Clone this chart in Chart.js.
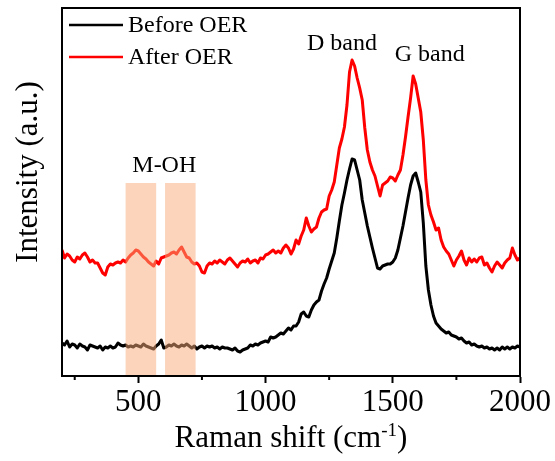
<!DOCTYPE html>
<html><head><meta charset="utf-8">
<script src="https://cdn.jsdelivr.net/npm/chart.js@4/dist/chart.umd.min.js"></script>
<style>html,body{margin:0;padding:0;background:#fff}canvas{display:block}</style>
</head><body>
<canvas id="c" width="555" height="461"></canvas>
<script>
// Raman shift grid (cm^-1): 200 .. 2000 every 10
const shiftStart = 200, shiftStep = 10;

// Before OER intensities (a.u.)
const beforeOER = [
 33,31,35,29,32,31,28,32,30,29,
 26,31,30,29,28,30,26,29,28,30,
 28,29,33,31,30,31,29,30,29,31,
 30,29,32,30,29,28,27,30,32,36,
 28,29,31,30,32,30,29,31,30,32,
 30,28,30,27,29,30,28,30,29,30,
 28,29,27,29,28,28,27,26,28,25,
 24,26,27,28,31,30,32,31,33,34,
 35,34,39,38,39,41,43,42,45,48,
 46,50,50,54,62,64,60,59,66,71,
 74,76,85,92,98,107,115,123,138,155,
 171,183,196,207,217,216,206,196,176,163,
 150,139,128,118,108,107,110,111,112,112,
 114,118,126,138,150,164,178,191,200,203,
 194,184,153,110,86,71,60,53,50,47,
 45,43,44,41,40,39,37,38,35,33,
 34,31,32,30,29,30,28,29,27,28,
 26,28,26,29,27,29,27,29,28,30,
 29
];

// After OER intensities (a.u.)
const afterOER = [
 126,118,122,120,116,114,119,117,121,123,
 119,114,116,113,113,108,103,101,109,112,
 111,113,114,113,116,114,118,121,123,126,
 125,122,119,117,114,112,110,115,112,118,
 119,120,121,123,124,122,126,129,124,119,
 118,114,112,113,110,104,103,110,113,112,
 115,113,116,114,112,116,118,115,112,109,
 113,115,114,117,113,115,116,113,118,117,
 121,122,124,126,123,125,123,128,131,128,
 122,127,136,132,140,146,158,150,144,147,
 149,158,164,166,167,180,186,194,211,228,
 237,249,271,304,316,310,298,288,276,248,
 226,214,206,200,190,180,191,193,195,199,
 198,195,201,206,221,239,259,278,300,292,
 278,264,236,196,171,161,154,146,148,136,
 129,125,122,116,110,116,120,125,116,111,
 118,114,117,114,118,119,111,113,108,104,
 110,114,111,108,113,116,118,128,121,116,
 118
];

const seriesLabels = ['Before OER', 'After OER'];
const seriesColors = ['#000000', '#ff0000'];
const majorTicks = [500, 1000, 1500, 2000];
const minorTicks = [250, 750, 1250, 1750];
const bandRegions = [[450, 570], [605, 725]];
const bandTop = 193;
const annotations = [
  {text: 'D band', x: 1300, y: 332},
  {text: 'G band', x: 1645, y: 321},
  {text: 'M-OH', x: 602, y: 210}
];

const shifts = beforeOER.map((_, i) => shiftStart + i * shiftStep);
const FONT = "'Liberation Serif','Times New Roman',serif";

const deco = {
  id: 'deco',
  afterDatasetsDraw(chart) {
    const {ctx, chartArea: a, scales: {x, y}} = chart;
    ctx.save();
    // shaded M-OH regions (drawn over the lines)
    ctx.fillStyle = 'rgba(248,170,120,0.5)';
    const t = y.getPixelForValue(bandTop);
    bandRegions.forEach(([x0, x1]) => {
      const p0 = x.getPixelForValue(x0), p1 = x.getPixelForValue(x1);
      ctx.fillRect(p0, t, p1 - p0, a.bottom - t);
    });
    // frame
    ctx.strokeStyle = '#000';
    ctx.lineWidth = 2;
    ctx.strokeRect(a.left, a.top, a.right - a.left, a.bottom - a.top);
    // minor ticks
    ctx.beginPath();
    minorTicks.forEach(v => {
      const p = x.getPixelForValue(v);
      ctx.moveTo(p, a.bottom);
      ctx.lineTo(p, a.bottom + 4);
    });
    ctx.stroke();
    // annotations
    ctx.fillStyle = '#000';
    ctx.font = '24px ' + FONT;
    ctx.textAlign = 'center';
    ctx.textBaseline = 'middle';
    annotations.forEach(an => ctx.fillText(an.text, x.getPixelForValue(an.x), y.getPixelForValue(an.y)));
    // legend
    ctx.textAlign = 'left';
    ctx.lineWidth = 2.5;
    chart.data.datasets.forEach((ds, i) => {
      const ly = a.top + 17 + i * 32;
      ctx.strokeStyle = ds.borderColor;
      ctx.beginPath();
      ctx.moveTo(a.left + 7, ly);
      ctx.lineTo(a.left + 61, ly);
      ctx.stroke();
      ctx.fillStyle = '#000';
      ctx.fillText(ds.label, a.left + 66, ly + 1);
    });
    // y title
    ctx.save();
    ctx.translate(a.left - 33, a.top + 164);
    ctx.rotate(-Math.PI / 2);
    ctx.font = '31px ' + FONT;
    ctx.textAlign = 'center';
    ctx.textBaseline = 'middle';
    ctx.fillText('Intensity (a.u.)', 0, 0);
    ctx.restore();
    // x title with superscript
    const main = 'Raman shift (cm', sup = '-1', tail = ')';
    ctx.textBaseline = 'alphabetic';
    ctx.textAlign = 'left';
    ctx.font = '31px ' + FONT;
    const w1 = ctx.measureText(main).width, w3 = ctx.measureText(tail).width;
    ctx.font = '19px ' + FONT;
    const w2 = ctx.measureText(sup).width;
    const cx = (a.left + a.right) / 2;
    let sx = cx - (w1 + w2 + w3) / 2;
    const by = a.bottom + 71;
    ctx.font = '31px ' + FONT;
    ctx.fillText(main, sx, by);
    ctx.font = '19px ' + FONT;
    ctx.fillText(sup, sx + w1, by - 11);
    ctx.font = '31px ' + FONT;
    ctx.fillText(tail, sx + w1 + w2, by);
    ctx.restore();
  }
};

new Chart(document.getElementById('c'), {
  type: 'line',
  data: {
    datasets: [
      {label: seriesLabels[0], data: shifts.map((s, i) => ({x: s, y: beforeOER[i]})), borderColor: seriesColors[0], borderWidth: 3},
      {label: seriesLabels[1], data: shifts.map((s, i) => ({x: s, y: afterOER[i]})), borderColor: seriesColors[1], borderWidth: 3}
    ]
  },
  options: {
    responsive: false,
    animation: false,
    devicePixelRatio: 1,
    layout: {padding: {left: 62, top: 8, right: 35, bottom: 0}},
    plugins: {legend: {display: false}, tooltip: {enabled: false}},
    elements: {point: {radius: 0}, line: {tension: 0, borderJoinStyle: 'round'}},
    scales: {
      x: {
        type: 'linear', min: 200, max: 2000,
        afterBuildTicks: s => { s.ticks = majorTicks.concat(minorTicks).sort((p, q) => p - q).map(v => ({value: v})); },
        afterFit: s => { s.height = 85; },
        ticks: {
          callback: v => majorTicks.includes(v) ? String(v) : '',
          color: '#000', font: {family: FONT, size: 31}, padding: 1,
          maxRotation: 0, autoSkip: false
        },
        grid: {
          drawOnChartArea: false, drawTicks: true, tickLength: 7, tickWidth: 2,
          tickColor: c => (c.tick && majorTicks.includes(c.tick.value)) ? '#000' : 'rgba(0,0,0,0)'
        },
        border: {display: true, color: '#000', width: 2},
        title: {display: false}
      },
      y: {display: false, min: 0, max: 368}
    }
  },
  plugins: [deco]
});
</script>
</body></html>
